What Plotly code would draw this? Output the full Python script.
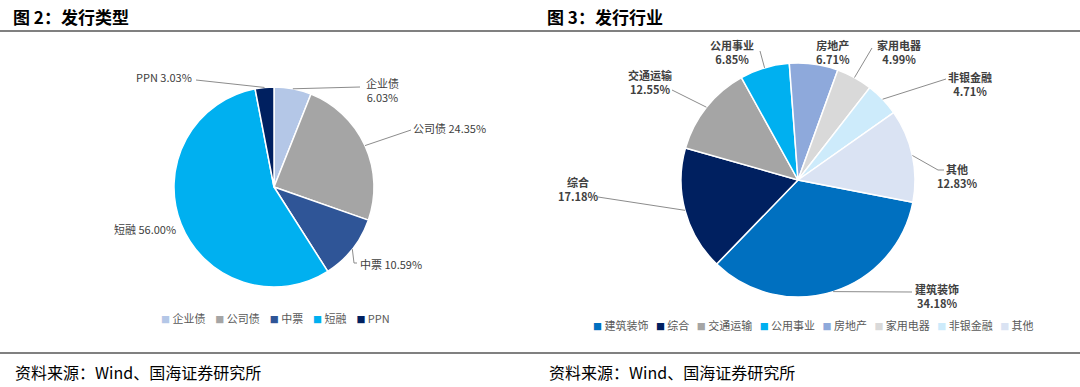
import math
import plotly.graph_objects as go

W, H = 1080, 387

# ---------------- data ----------------
type_labels = ["企业债", "公司债", "中票", "短融", "PPN"]
type_values = [6.03, 24.35, 10.59, 56.00, 3.03]
type_colors = ["#B4C7E7", "#A5A5A5", "#2F5597", "#00B0F0", "#002060"]

ind_labels = ["建筑装饰", "综合", "交通运输", "公用事业", "房地产", "家用电器", "非银金融", "其他"]
ind_values = [34.18, 17.18, 12.55, 6.85, 6.71, 4.99, 4.71, 12.83]
ind_colors = ["#0070C0", "#002060", "#A5A5A5", "#00B0F0", "#8EA9DB", "#D9D9D9", "#CDEBFB", "#DAE3F3"]

titles = ["图 2：发行类型", "图 3：发行行业"]
source_text = "资料来源：Wind、国海证券研究所"

FONT = "Noto Sans CJK SC"

# ---------------- layout helpers ----------------
def px(x):
    return x / W


def py(y):
    return 1 - y / H


# pie geometry (pixels): centre x, centre y, radius, rotation
PIE1 = dict(cx=274, cy=187, r=100, rot=0)
PIE2 = dict(cx=798, cy=180, r=117, rot=101)


def domain(g):
    return dict(x=[px(g["cx"] - g["r"]), px(g["cx"] + g["r"])],
                y=[py(g["cy"] + g["r"]), py(g["cy"] - g["r"])])


def edge_points(values, g):
    total = sum(values)
    pts = []
    cum = 0
    for v in values:
        mid = g["rot"] + 360 * (cum + v / 2) / total
        a = math.radians(mid)
        pts.append((g["cx"] + g["r"] * math.sin(a), g["cy"] - g["r"] * math.cos(a)))
        cum += v
    return pts


fig = go.Figure()

fig.add_trace(go.Pie(
    labels=type_labels, values=type_values, sort=False, direction="clockwise",
    rotation=PIE1["rot"], marker=dict(colors=type_colors, line=dict(color="white", width=1.5)),
    textinfo="none", hoverinfo="label+percent", domain=domain(PIE1), showlegend=False,
))
fig.add_trace(go.Pie(
    labels=ind_labels, values=ind_values, sort=False, direction="clockwise",
    rotation=PIE2["rot"], marker=dict(colors=ind_colors, line=dict(color="white", width=1.5)),
    textinfo="none", hoverinfo="label+percent", domain=domain(PIE2), showlegend=False,
))

annotations = []
shapes = []

# label placement (layout): text position, anchor, two-line flag, leader waypoints
type_label_layout = [
    dict(x=382, y=90, xa="center", two=True, path=[(360, 87)]),
    dict(x=411, y=128, xa="left", two=False, path=[(411, 130)]),
    dict(x=358, y=264, xa="left", two=False, path=[(354, 263), (357, 263)]),
    dict(x=178, y=229, xa="right", two=False, path=None),
    dict(x=194, y=77, xa="right", two=False, path=[(196, 80)]),
]
ind_label_layout = [
    dict(x=937, y=296, xa="center", two=True, path=[(912, 292)]),
    dict(x=578, y=189, xa="center", two=True, path=[(598, 197)]),
    dict(x=650, y=82, xa="center", two=True, path=[(672, 90)]),
    dict(x=732, y=52, xa="center", two=True, path=[(760, 51)]),
    dict(x=833, y=52, xa="center", two=True, path=None),
    dict(x=899, y=52, xa="center", two=True, path=[(872, 48)]),
    dict(x=970, y=84, xa="center", two=True, path=[(946, 79)]),
    dict(x=957, y=176, xa="center", two=True, path=[(938, 170), (944, 170)]),
]


def add_labels(labels, values, g, lay, bold):
    pts = edge_points(values, g)
    for lab, val, p, L in zip(labels, values, pts, lay):
        txt = f"{lab}<br>{val:.2f}%" if L["two"] else f"{lab} {val:.2f}%"
        if bold:
            txt = "<b>" + txt.replace("<br>", "</b><br><b>") + "</b>"
        annotations.append(dict(
            x=px(L["x"]), y=py(L["y"]), xref="paper", yref="paper", text=txt,
            showarrow=False, xanchor=L["xa"], yanchor="middle", align="center",
            font=dict(family=FONT, size=11, color="#404040"),
        ))
        if L["path"]:
            seq = [p] + L["path"]
            d = "M {} {}".format(px(seq[0][0]), py(seq[0][1]))
            for q in seq[1:]:
                d += " L {} {}".format(px(q[0]), py(q[1]))
            shapes.append(dict(type="path", path=d, xref="paper", yref="paper",
                               line=dict(color="#8C8C8C", width=1)))


add_labels(type_labels, type_values, PIE1, type_label_layout, bold=False)
add_labels(ind_labels, ind_values, PIE2, ind_label_layout, bold=True)


# custom legends
def legend_text(labels, colors, gap):
    parts = []
    for lab, c in zip(labels, colors):
        parts.append(f"<span style='color:{c};font-size:9px'>■</span> {lab}")
    return gap.join(parts)


annotations.append(dict(
    x=px(275), y=py(318), xref="paper", yref="paper",
    text=legend_text(type_labels, type_colors, "&nbsp;&nbsp;&nbsp;&nbsp;"),
    showarrow=False, xanchor="center", yanchor="middle",
    font=dict(family=FONT, size=11, color="#595959"),
))
annotations.append(dict(
    x=px(813), y=py(325), xref="paper", yref="paper",
    text=legend_text(ind_labels, ind_colors, "&nbsp;&nbsp;&nbsp;"),
    showarrow=False, xanchor="center", yanchor="middle",
    font=dict(family=FONT, size=11, color="#595959"),
))

# titles and source
for i, (t, x0) in enumerate(zip(titles, [11, 545])):
    annotations.append(dict(
        x=px(x0), y=py(16), xref="paper", yref="paper", text=f"<b>{t}</b>",
        showarrow=False, xanchor="left", yanchor="middle",
        font=dict(family=FONT, size=17, color="#000000"),
    ))
    annotations.append(dict(
        x=px(x0 + 2), y=py(372), xref="paper", yref="paper", text=source_text,
        showarrow=False, xanchor="left", yanchor="middle",
        font=dict(family=FONT, size=16, color="#000000"),
    ))

# separator rules
for yy in (31, 353):
    shapes.append(dict(type="line", xref="paper", yref="paper",
                       x0=0, x1=1, y0=py(yy), y1=py(yy),
                       line=dict(color="#808080", width=2)))

fig.update_layout(
    width=W, height=H,
    margin=dict(l=0, r=0, t=0, b=0),
    paper_bgcolor="white", plot_bgcolor="white",
    annotations=annotations, shapes=shapes,
    showlegend=False,
    font=dict(family=FONT),
)

fig.write_html(
    "out.html",
    config={"displayModeBar": False},
    post_script="document.body.style.margin='0';document.body.style.overflow='hidden';",
)
